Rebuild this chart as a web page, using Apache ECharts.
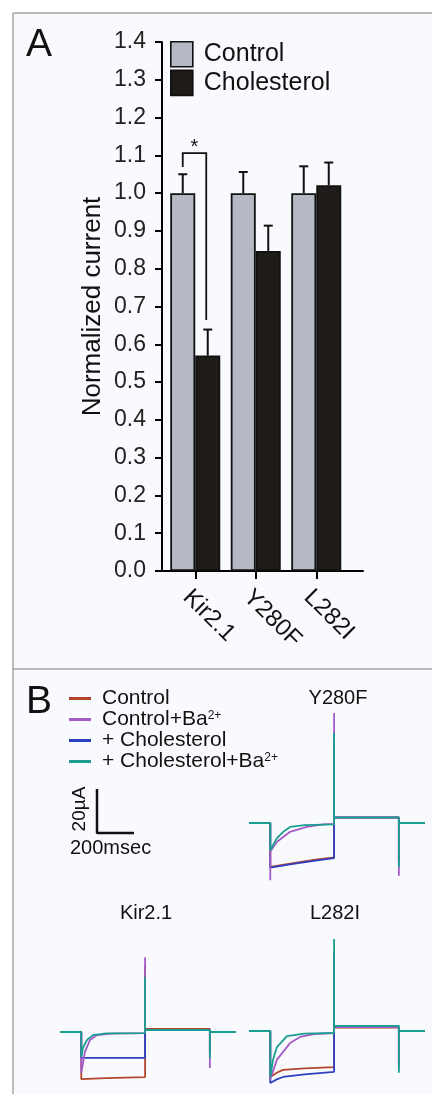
<!DOCTYPE html>
<html><head><meta charset="utf-8">
<script src="https://cdn.jsdelivr.net/npm/echarts@6/dist/echarts.min.js"></script>
<style>html,body{margin:0;padding:0;background:#fff;}#c{width:432px;height:1095px;}</style>
</head><body><div id="c"></div>
<script>
// ---------- Panel A data ----------
const categories = ['Kir2.1', 'Y280F', 'L282I'];
const controlMean = [1.0, 1.0, 1.0];
const controlErr = [0.05, 0.056, 0.071];
const cholMean = [0.57, 0.847, 1.021];
const cholErr = [0.069, 0.067, 0.06];
// significance bracket: [category index, left leg bottom, top, right leg bottom]
const sigBracket = [0, 1.069, 1.106, 0.664];

// ---------- Panel B data: [time ms, current µA] ----------
const traceNames = ['ctl', 'ctlBa', 'chol', 'cholBa'];
const traceLabels = ['Control', 'Control+Ba{sup|2+}', '+ Cholesterol', '+ Cholesterol+Ba{sup|2+}'];
const panelTitles = ['Y280F', 'Kir2.1', 'L282I'];

const kirCtl = [[0,0],[115,0],[115,-21.4],[250,-21],[460,-20.5],[460,30],[460,1.4],[810,1.4],[810,-10],[810,0],[950,0]];
const kirChol = [[0,0],[115,0],[115,-11.8],[460,-11.8],[460,24],[460,0.9],[810,0.9],[810,-9],[810,0],[950,0]];
const kirCtlBa = [[0,0],[115,0],[115,-18.6],[135,-9],[162,-3.6],[200,-1.4],[280,-0.7],[460,-0.5],[460,34],[460,0.9],[810,0.9],[810,-16.4],[810,0],[950,0]];
const kirCholBa = [[0,0],[115,0],[115,-11.4],[125,-7],[146,-3.6],[178,-1.4],[250,-0.6],[460,-0.5],[460,25],[460,0.9],[810,0.9],[810,-11.8],[810,0],[950,0]];

const y280Ctl = [[0,0],[115,0],[115,-20],[222,-18.5],[350,-16.8],[460,-15.6],[460,36],[460,2.6],[810,2.6],[810,-18],[810,0],[950,0]];
const y280Chol = [[0,0],[115,0],[115,-20.3],[222,-18.8],[350,-17.2],[460,-16],[460,36],[460,2.4],[810,2.4],[810,-18],[810,0],[950,0]];
const y280CtlBa = [[0,0],[115,0],[115,-26],[115,-13],[150,-8.6],[222,-4],[312,-1.8],[401,-0.6],[460,-0.4],[460,50],[460,2.6],[810,2.6],[810,-24],[810,0],[950,0]];
const y280CholBa = [[0,0],[115,0],[115,-12.4],[150,-7],[185,-4],[222,-1.8],[300,-1],[460,-0.6],[460,41],[460,2.6],[810,2.6],[810,-20],[810,0],[950,0]];

const l282Ctl = [[0,0],[115,0],[115,-20.9],[150,-19],[184,-17.7],[300,-17],[460,-16.4],[460,35],[460,1.6],[810,1.6],[810,-15],[810,0],[950,0]];
const l282Chol = [[0,0],[115,0],[115,-23.6],[150,-22],[184,-20.9],[300,-19.7],[460,-18.6],[460,35],[460,2.0],[810,2.0],[810,-15],[810,0],[950,0]];
const l282CtlBa = [[0,0],[115,0],[115,-22],[151,-13],[222,-5.5],[276,-2.7],[350,-1.4],[460,-0.9],[460,36],[460,1.8],[810,1.8],[810,-17],[810,0],[950,0]];
const l282CholBa = [[0,0],[115,0],[115,-21],[130,-13],[151,-7.3],[205,-2.3],[300,-1.2],[460,-0.9],[460,41.8],[460,2.3],[810,2.3],[810,-19],[810,0],[950,0]];

const scaleBar = [[0,20],[0,0],[200,0]]; // 200 ms x 20 µA

// ---------- styles / layout ----------
const FONT = 'Liberation Sans, Arial, Helvetica, sans-serif';
const traceColors = { ctl: '#b4452c', ctlBa: '#a35bc6', chol: '#2e40c2', cholBa: '#1a9e8f' };
const BAR_W = 25;
const PX_PER_MS = 0.185, PX_PER_UA = 2.2;
const T_MAX = 950, I_MIN = -28, I_MAX = 60;

const chart = echarts.init(document.getElementById('c'), null, { renderer: 'canvas' });

function traceGrid(left, zeroY) {
  return { left: left, top: zeroY - I_MAX * PX_PER_UA, width: T_MAX * PX_PER_MS, height: (I_MAX - I_MIN) * PX_PER_UA };
}
const grids = [
  { left: 165, top: 42, width: 181.5, height: 529 },   // 0 bars
  { left: 162, top: 42, width: 201, height: 529 },     // 1 x-axis line
  traceGrid(249, 823),   // 2 Y280F
  traceGrid(60, 1032),   // 3 Kir2.1
  traceGrid(249, 1031),  // 4 L282I
  traceGrid(97, 833)     // 5 scale bar
];
const xAxes = [
  { type: 'category', gridIndex: 0, data: categories,
    axisLine: { show: false },
    axisTick: { show: true, alignWithLabel: true, length: 8, lineStyle: { color: '#000', width: 2 } },
    axisLabel: { rotate: -45, margin: 14, color: '#111', fontSize: 24, fontFamily: FONT, verticalAlign: 'top', align: 'left' } },
  { type: 'value', gridIndex: 1, min: 0, max: 1, axisLine: { show: true, lineStyle: { color: '#000', width: 2 } },
    axisTick: { show: false }, axisLabel: { show: false }, splitLine: { show: false } }
];
const yAxes = [
  { type: 'value', gridIndex: 0, min: 0, max: 1.4, interval: 0.1, offset: 3,
    name: 'Normalized current', nameLocation: 'middle', nameGap: 56, nameRotate: 90,
    nameTextStyle: { fontSize: 26, color: '#111', fontFamily: FONT },
    axisLine: { show: true, lineStyle: { color: '#000', width: 2 } },
    axisTick: { show: true, length: 7, lineStyle: { color: '#000', width: 2 } },
    axisLabel: { margin: 16, color: '#222', fontSize: 23, fontFamily: FONT, formatter: v => v.toFixed(1) },
    splitLine: { show: false } },
  { type: 'value', gridIndex: 1, min: 0, max: 1.4, show: false }
];
for (let g = 2; g <= 5; g++) {
  xAxes.push({ type: 'value', gridIndex: g, min: 0, max: T_MAX, show: false });
  yAxes.push({ type: 'value', gridIndex: g, min: I_MIN, max: I_MAX, show: false });
}

const series = [
  { name: 'Control', type: 'bar', xAxisIndex: 0, yAxisIndex: 0, data: controlMean, barWidth: BAR_W, barGap: '0%',
    itemStyle: { color: '#b4b9c4', borderColor: '#111', borderWidth: 1.8 } },
  { name: 'Cholesterol', type: 'bar', xAxisIndex: 0, yAxisIndex: 0, data: cholMean, barWidth: BAR_W, barGap: '0%',
    itemStyle: { color: '#1f1b19', borderColor: '#111', borderWidth: 1.8 } }
];
function errSeries(means, errs, side) {
  return {
    type: 'custom', xAxisIndex: 0, yAxisIndex: 0, z: 3,
    data: means.map((m, i) => [i, m, m + errs[i]]),
    renderItem: function (params, api) {
      const p0 = api.coord([api.value(0), api.value(1)]);
      const p1 = api.coord([api.value(0), api.value(2)]);
      const x = p0[0] + side * BAR_W / 2;
      const st = { stroke: '#111', lineWidth: 2 };
      return { type: 'group', children: [
        { type: 'line', shape: { x1: x, y1: p0[1], x2: x, y2: p1[1] }, style: st },
        { type: 'line', shape: { x1: x - 4.5, y1: p1[1], x2: x + 4.5, y2: p1[1] }, style: st }
      ] };
    }
  };
}
series.push(errSeries(controlMean, controlErr, -1));
series.push(errSeries(cholMean, cholErr, 1));
series.push({
  type: 'custom', xAxisIndex: 0, yAxisIndex: 0, z: 3,
  data: [sigBracket],
  renderItem: function (params, api) {
    const c = api.value(0);
    const pl = api.coord([c, api.value(1)]);
    const pt = api.coord([c, api.value(2)]);
    const pr = api.coord([c, api.value(3)]);
    const xl = pl[0] - BAR_W / 2, xr = pl[0] + BAR_W / 2 - 1.5;
    return { type: 'group', children: [
      { type: 'polyline', shape: { points: [[xl, pl[1]], [xl, pt[1]], [xr, pt[1]], [xr, pr[1]]] },
        style: { stroke: '#111', lineWidth: 1.8, fill: null } },
      { type: 'text', x: (xl + xr) / 2, y: pt[1] + 4,
        style: { text: '*', fontSize: 20, fontFamily: FONT, fill: '#111', align: 'center', verticalAlign: 'bottom' } }
    ] };
  }
});

const panelTraces = [
  [2, { ctl: y280Ctl, chol: y280Chol, ctlBa: y280CtlBa, cholBa: y280CholBa }],
  [3, { ctl: kirCtl, chol: kirChol, ctlBa: kirCtlBa, cholBa: kirCholBa }],
  [4, { ctl: l282Ctl, chol: l282Chol, ctlBa: l282CtlBa, cholBa: l282CholBa }]
];
const drawOrder = ['ctl', 'chol', 'ctlBa', 'cholBa'];
panelTraces.forEach(([g, tr]) => {
  drawOrder.forEach(k => {
    series.push({ name: k, type: 'line', xAxisIndex: g, yAxisIndex: g, data: tr[k], showSymbol: false, symbol: 'none',
      lineStyle: { color: traceColors[k], width: 1.8 }, itemStyle: { color: traceColors[k] }, z: 4 });
  });
});
series.push({ type: 'line', xAxisIndex: 5, yAxisIndex: 5, data: scaleBar, symbol: 'none',
  lineStyle: { color: '#111', width: 2.5 } });

const titleStyle = { fontWeight: 'normal', color: '#111', fontFamily: FONT };
const option = {
  animation: false,
  backgroundColor: 'transparent',
  textStyle: { fontFamily: FONT },
  title: [
    { text: 'A', left: 26, top: 26, padding: 0, textStyle: Object.assign({ fontSize: 39 }, titleStyle) },
    { text: 'B', left: 26, top: 683, padding: 0, textStyle: Object.assign({ fontSize: 39 }, titleStyle) },
    { text: panelTitles[0], left: 338, top: 688, padding: 0, textAlign: 'center', textStyle: Object.assign({ fontSize: 20 }, titleStyle) },
    { text: panelTitles[1], left: 146, top: 903, padding: 0, textAlign: 'center', textStyle: Object.assign({ fontSize: 20 }, titleStyle) },
    { text: panelTitles[2], left: 335, top: 903, padding: 0, textAlign: 'center', textStyle: Object.assign({ fontSize: 20 }, titleStyle) }
  ],
  legend: [
    { data: ['Control', 'Cholesterol'], orient: 'vertical', left: 170, top: 41, padding: 0, itemWidth: 22, itemHeight: 25, itemGap: 2,
      icon: 'rect', itemStyle: { borderColor: '#111', borderWidth: 1.6 },
      textStyle: { fontSize: 25, color: '#111', fontFamily: FONT, padding: [0, 0, 0, 6] }, selectedMode: false },
    { data: traceNames, orient: 'vertical', left: 69, top: 688, padding: 0, itemWidth: 22, itemHeight: 3, itemGap: 0,
      icon: 'rect', selectedMode: false,
      formatter: name => traceLabels[traceNames.indexOf(name)],
      textStyle: { fontSize: 21, lineHeight: 20, color: '#111', fontFamily: FONT, padding: [0, 0, 0, 6],
        rich: { sup: { fontSize: 12, fontFamily: FONT, color: '#111', verticalAlign: 'top', lineHeight: 14 } } } }
  ],
  grid: grids,
  xAxis: xAxes,
  yAxis: yAxes,
  series: series,
  graphic: [
    { type: 'rect', z: -10, silent: true, shape: { x: 13, y: 13, width: 440, height: 1081 },
      style: { fill: '#f9fafd', stroke: null } },
    { type: 'line', z: -9, silent: true, shape: { x1: 13, y1: 13, x2: 432, y2: 13 }, style: { stroke: '#a6a6a6', lineWidth: 1.5 } },
    { type: 'line', z: -9, silent: true, shape: { x1: 13, y1: 13, x2: 13, y2: 1094 }, style: { stroke: '#a6a6a6', lineWidth: 1.5 } },
    { type: 'line', z: -9, silent: true, shape: { x1: 13, y1: 669, x2: 432, y2: 669 }, style: { stroke: '#a6a6a6', lineWidth: 1.5 } },
    { type: 'text', x: 80, y: 809, rotation: Math.PI / 2,
      style: { text: '20µA', fontSize: 19, fontFamily: FONT, fill: '#111', align: 'center', verticalAlign: 'middle' } },
    { type: 'text', x: 70, y: 848,
      style: { text: '200msec', fontSize: 20, fontFamily: FONT, fill: '#111', align: 'left', verticalAlign: 'middle' } }
  ]
};
chart.setOption(option);
</script>
</body></html>
